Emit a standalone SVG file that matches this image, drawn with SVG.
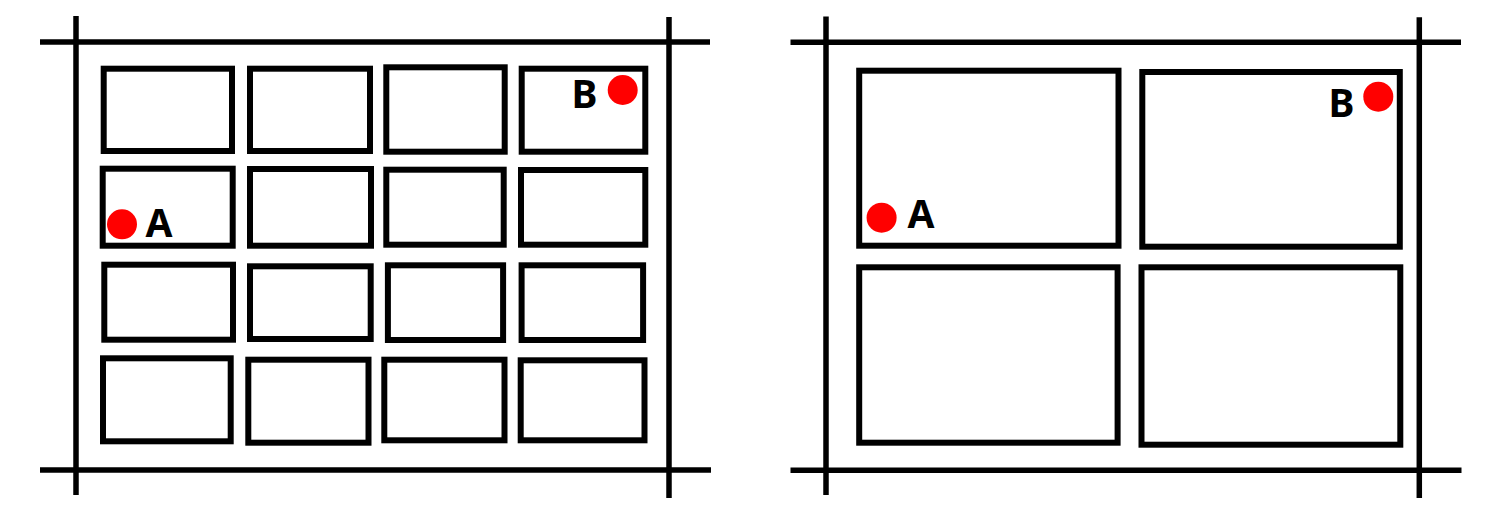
<svg xmlns="http://www.w3.org/2000/svg" width="1500" height="507" viewBox="0 0 1500 507">
<style>
.road{stroke:#000;stroke-width:5.5;fill:none}
.blk{stroke:#000;stroke-width:6;fill:#fff}
.pt{fill:#f00}
.lbl{font-family:"Noto Sans","Liberation Sans",sans-serif;font-weight:bold;font-size:39px;fill:#000}
</style>
<rect width="1500" height="507" fill="#fff"/>
<g id="roads">
<line class="road" x1="40" y1="42" x2="710" y2="42"/>
<line class="road" x1="40" y1="470" x2="711" y2="470"/>
<line class="road" x1="76" y1="16" x2="76" y2="495"/>
<line class="road" x1="669" y1="17" x2="669" y2="498"/>
<line class="road" x1="790.5" y1="42.3" x2="1461" y2="42.3"/>
<line class="road" x1="790.5" y1="470.3" x2="1461.5" y2="470.3"/>
<line class="road" x1="826" y1="16.5" x2="826" y2="495"/>
<line class="road" x1="1419.3" y1="17.3" x2="1419.3" y2="498"/>
</g>
<g id="left-grid">
<g id="l-r1c1"><rect class="blk" x="103.7" y="68.7" width="128.3" height="82.3"/></g>
<g id="l-r1c2"><rect class="blk" x="250" y="68.7" width="120" height="82.3"/></g>
<g id="l-r1c3"><rect class="blk" x="386.3" y="67.3" width="118.4" height="84.4"/></g>
<g id="l-r1c4"><rect class="blk" x="521.7" y="68.7" width="123.6" height="83"/></g>
<g id="l-r2c1"><rect class="blk" x="102.7" y="168.7" width="130" height="77"/></g>
<g id="l-r2c2"><rect class="blk" x="250" y="169" width="121" height="76.7"/></g>
<g id="l-r2c3"><rect class="blk" x="386.3" y="169.7" width="117.4" height="75"/></g>
<g id="l-r2c4"><rect class="blk" x="521" y="170" width="124.3" height="74.7"/></g>
<g id="l-r3c1"><rect class="blk" x="104.3" y="264.7" width="128.7" height="75"/></g>
<g id="l-r3c2"><rect class="blk" x="250" y="266.3" width="120.7" height="72.7"/></g>
<g id="l-r3c3"><rect class="blk" x="387.9" y="265.3" width="115.2" height="74.7"/></g>
<g id="l-r3c4"><rect class="blk" x="521.6" y="265.3" width="121.5" height="74.7"/></g>
<g id="l-r4c1"><rect class="blk" x="103" y="358.3" width="127.7" height="83"/></g>
<g id="l-r4c2"><rect class="blk" x="248.3" y="359.7" width="120.2" height="83"/></g>
<g id="l-r4c3"><rect class="blk" x="384.3" y="359.7" width="120.2" height="80.6"/></g>
<g id="l-r4c4"><rect class="blk" x="520.7" y="360.3" width="123.8" height="80"/></g>
</g>
<g id="right-grid">
<g id="r-tl"><rect class="blk" x="859.2" y="70.7" width="259.3" height="175"/></g>
<g id="r-tr"><rect class="blk" x="1142.3" y="72" width="257.5" height="174.7"/></g>
<g id="r-bl"><rect class="blk" x="859.2" y="267.3" width="258.4" height="175.4"/></g>
<g id="r-br"><rect class="blk" x="1141.5" y="267.3" width="258.8" height="177.4"/></g>
</g>
<g id="left-A"><circle class="pt" cx="122" cy="224.3" r="15"/><text class="lbl" x="145.5" y="236.7">A</text></g>
<g id="left-B"><circle class="pt" cx="622.7" cy="90" r="15"/><text class="lbl" x="571.5" y="108.3">B</text></g>
<g id="right-A"><circle class="pt" cx="881.6" cy="217.7" r="15"/><text class="lbl" x="907.5" y="228.3">A</text></g>
<g id="right-B"><circle class="pt" cx="1378.3" cy="96.7" r="15"/><text class="lbl" x="1328.5" y="117.3">B</text></g>
</svg>
